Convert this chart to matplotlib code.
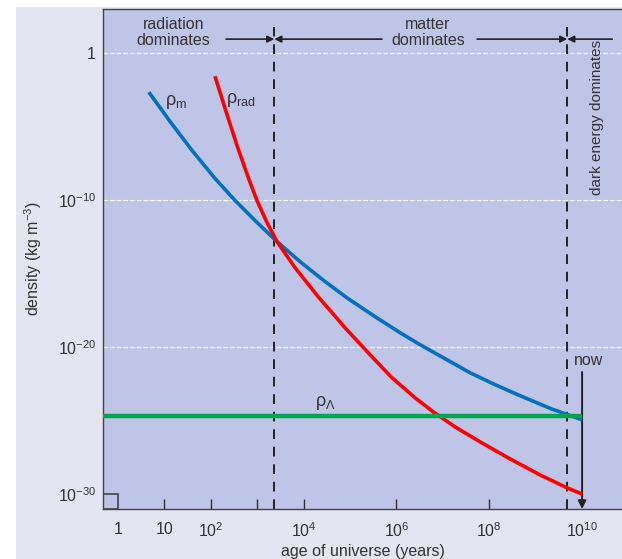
import matplotlib.pyplot as plt
import matplotlib.patches as mpatches
from matplotlib.ticker import FixedLocator
import numpy as np

plt.rcParams['font.family'] = ['Liberation Sans', 'DejaVu Sans']
plt.rcParams['mathtext.fontset'] = 'custom'
plt.rcParams['mathtext.rm'] = 'Liberation Sans'
plt.rcParams['mathtext.it'] = 'Liberation Sans'

# as powers of ten
m_age_exp = [0.668, 1.121, 1.595, 2.091, 2.522, 2.974, 3.427, 3.922, 4.461, 4.957,
             5.539, 6.078, 6.509, 7.047, 7.586, 8.125, 8.664, 9.332, 10.0]
m_dens_exp = [-2.66, -4.64, -6.61, -8.52, -10.02, -11.45, -12.82, -14.18, -15.54, -16.70,
              -17.93, -19.02, -19.84, -20.79, -21.75, -22.56, -23.31, -24.20, -24.95]

rad_age_exp = [2.091, 2.328, 2.565, 2.823, 2.996, 3.211, 3.427, 3.815, 4.310, 4.892,
               5.431, 5.905, 6.401, 6.789, 7.263, 7.802, 8.448, 9.095, 9.677, 10.0]
rad_dens_exp = [-1.57, -3.95, -6.27, -8.59, -10.02, -11.52, -12.82, -14.59, -16.56, -18.68,
                -20.52, -22.09, -23.45, -24.40, -25.43, -26.45, -27.61, -28.70, -29.58, -30.0]

lam_age_exp = [-0.32, 10.0]
lam_dens_exp = [-24.7, -24.7]

eq_age = 10**3.37       # radiation/matter equality
de_age = 10**9.68       # dark energy takes over
now_age = 1e10

xtick_vals = [1, 10, 1e2, 1e3, 1e4, 1e6, 1e8, 1e10]
xtick_labels = ['1', '10', '$10^2$', '', '$10^4$', '$10^6$', '$10^8$', '$10^{10}$']
ytick_vals = [1, 1e-10, 1e-20, 1e-30]
ytick_labels = ['1', '$10^{-10}$', '$10^{-20}$', '$10^{-30}$']

txt = '#333333'
fs = 11.5
fig = plt.figure(figsize=(6.22, 5.59), dpi=100)
fig.patches.append(mpatches.Rectangle((16/622, 0), 1, 1 - 7/559, transform=fig.transFigure,
                                      facecolor='#e3e5f3', edgecolor='none', zorder=-5))
ax = fig.add_axes([103/622, 1 - 509/559, 1 - 103/622, 500/559])
ax.set_facecolor('#bfc5e6')
ax.set_xscale('log')
ax.set_yscale('log')
xmin, xmax = 10**-0.32, 10**10.86
ymin, ymax = 10**-31.02, 10**3.0
ax.set_xlim(xmin, xmax)
ax.set_ylim(ymin, ymax)

ax.spines['right'].set_visible(False)
for s in ['left', 'bottom', 'top']:
    ax.spines[s].set_color('#444444')
    ax.spines[s].set_linewidth(1.0)

ax.set_xticks(xtick_vals)
ax.set_xticklabels(xtick_labels)
ax.xaxis.set_minor_locator(FixedLocator([]))
ax.tick_params(axis='x', which='major', length=7, width=1, direction='in', color='#333333',
               pad=9, labelsize=fs, labelcolor=txt)
# no marks at 1 and at 10^10
for tk, v in zip(ax.xaxis.get_major_ticks(), xtick_vals):
    if v in (1, 1e10):
        tk.tick1line.set_visible(False)
ax.set_yticks(ytick_vals)
ax.set_yticklabels(ytick_labels)
ax.yaxis.set_minor_locator(FixedLocator([]))
ax.tick_params(axis='y', length=0, pad=5, labelsize=fs, labelcolor=txt)

for v in ytick_vals[:3]:
    ax.axhline(v, color='white', lw=0.8, ls=(0, (4, 2)), zorder=1)

# small box in the corner
ax.add_patch(mpatches.Rectangle((xmin, ymin), 1 - xmin, 1e-30 - ymin, facecolor='none',
                                edgecolor='#444444', lw=1.2, zorder=3))

for xv in [eq_age, de_age]:
    ax.axvline(xv, ymax=0.964, color='#222222', lw=1.4, ls=(0, (5, 4)), zorder=2)

ax.plot(10**np.array(m_age_exp), 10**np.array(m_dens_exp), color='#0070c0', lw=2.6,
        zorder=4, solid_capstyle='butt')
ax.plot(10**np.array(rad_age_exp), 10**np.array(rad_dens_exp), color='#ff0000', lw=2.6,
        zorder=4, solid_capstyle='butt')
ax.plot(10**np.array(lam_age_exp), 10**np.array(lam_dens_exp), color='#00a650', lw=3.2,
        zorder=5, solid_capstyle='butt')

ax.text(10**1.02, 10**-3.5, r'$\rho_\mathrm{m}$', fontsize=13, color=txt)
ax.text(10**2.33, 10**-3.4, r'$\rho_\mathrm{rad}$', fontsize=13, color=txt)
ax.text(10**4.25, 10**-24.0, r'$\rho_\Lambda$', fontsize=13, color=txt)

ya = 10**0.95
ap = dict(arrowstyle='-|>', color='#222222', lw=1.2, mutation_scale=10, shrinkA=0, shrinkB=0)
ax.annotate('', xy=(eq_age, ya), xytext=(10**2.33, ya), arrowprops=ap)
ax.annotate('', xy=(eq_age, ya), xytext=(10**5.69, ya), arrowprops=ap)
ax.annotate('', xy=(de_age, ya), xytext=(10**7.74, ya), arrowprops=ap)
ax.annotate('', xy=(de_age, ya), xytext=(10**10.65, ya), arrowprops=ap)
ax.text(10**1.2, 10**1.4, 'radiation\ndominates', ha='center', va='center',
        fontsize=fs, color=txt, linespacing=1.15)
ax.text(10**6.68, 10**1.4, 'matter\ndominates', ha='center', va='center',
        fontsize=fs, color=txt, linespacing=1.15)
ax.text(10**10.32, 10**-4.4, 'dark energy dominates', rotation=90, ha='center', va='center',
        fontsize=fs - 0.5, color=txt)

ax.annotate('', xy=(now_age, ymin), xytext=(now_age, 10**-21.7),
            arrowprops=dict(arrowstyle='-|>', color='#222222', lw=1.4, mutation_scale=12,
                            shrinkA=0, shrinkB=0))
ax.text(10**10.15, 10**-20.9, 'now', ha='center', va='center', fontsize=fs, color=txt)

ax.set_xlabel('age of universe (years)', fontsize=fs, color=txt, labelpad=3)
ax.set_ylabel('density (kg m$^{-3}$)', fontsize=fs, color=txt, labelpad=10)

fig.savefig('out.png', dpi=100)
